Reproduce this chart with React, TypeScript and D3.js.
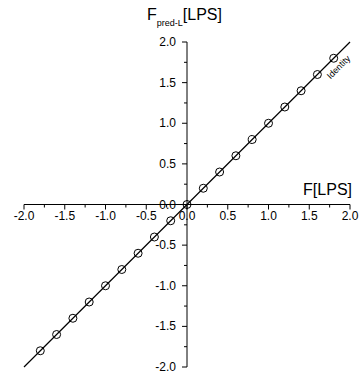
import React, { useEffect, useRef } from "react";
import * as d3 from "d3";

// measured vs predicted values, both in LPS
const xValues = [-1.8, -1.6, -1.4, -1.2, -1.0, -0.8, -0.6, -0.4, -0.2, 0.0, 0.2, 0.4, 0.6, 0.8, 1.0, 1.2, 1.4, 1.6, 1.8];
const yValues = [-1.8, -1.6, -1.4, -1.2, -1.0, -0.8, -0.6, -0.4, -0.2, 0.0, 0.2, 0.4, 0.6, 0.8, 1.0, 1.2, 1.4, 1.6, 1.8];
const lineX = [-2.0, 2.0];
const majorTicks = [-2.0, -1.5, -1.0, -0.5, 0.0, 0.5, 1.0, 1.5, 2.0];
const minorTicks = [-1.75, -1.25, -0.75, -0.25, 0.25, 0.75, 1.25, 1.75];

const W = 362;
const H = 374;
const FONT = "'Liberation Sans', Arial, sans-serif";
const fmt = (d: number) => d.toFixed(1); // plain hyphen minus like the original

const App = () => {
  const svgRef = useRef<SVGSVGElement>(null);

  useEffect(() => {
    const svg = d3.select(svgRef.current);
    svg.selectAll("*").remove();

    const x = d3.scaleLinear().domain([-2, 2]).range([24, 350]);
    const y = d3.scaleLinear().domain([-2, 2]).range([367, 42]);

    // x axis through y = 0, ticks pointing down
    const xAxis = svg.append("g").attr("transform", `translate(0,${y(0)})`);
    xAxis.append("line").attr("x1", x(-2)).attr("x2", x(2)).attr("stroke", "#000");
    xAxis.selectAll(".maj").data(majorTicks).enter().append("line")
      .attr("x1", (d) => x(d)).attr("x2", (d) => x(d))
      .attr("y1", 0).attr("y2", 5).attr("stroke", "#000");
    xAxis.selectAll(".min").data(minorTicks).enter().append("line")
      .attr("x1", (d) => x(d)).attr("x2", (d) => x(d))
      .attr("y1", 0).attr("y2", 3).attr("stroke", "#000");
    xAxis.selectAll("text").data(majorTicks).enter().append("text")
      .attr("x", (d) => x(d)).attr("y", 15)
      .attr("text-anchor", "middle")
      .attr("font-family", FONT).attr("font-size", 12)
      .text(fmt);

    // y axis through x = 0, ticks pointing left
    const yAxis = svg.append("g").attr("transform", `translate(${x(0)},0)`);
    yAxis.append("line").attr("y1", y(-2)).attr("y2", y(2)).attr("stroke", "#000");
    yAxis.selectAll(".maj").data(majorTicks).enter().append("line")
      .attr("y1", (d) => y(d)).attr("y2", (d) => y(d))
      .attr("x1", 0).attr("x2", -5).attr("stroke", "#000");
    yAxis.selectAll(".min").data(minorTicks).enter().append("line")
      .attr("y1", (d) => y(d)).attr("y2", (d) => y(d))
      .attr("x1", 0).attr("x2", -3).attr("stroke", "#000");
    yAxis.selectAll("text").data(majorTicks).enter().append("text")
      .attr("x", -11).attr("y", (d) => y(d) + 4)
      .attr("text-anchor", "end")
      .attr("font-family", FONT).attr("font-size", 12)
      .text(fmt);

    // identity line
    const line = d3.line<number>().x((d) => x(d)).y((d) => y(d));
    svg.append("path").datum(lineX).attr("d", line)
      .attr("fill", "none").attr("stroke", "#000").attr("stroke-width", 1.2);

    // points
    svg.selectAll("circle").data(xValues).enter().append("circle")
      .attr("cx", (d) => x(d)).attr("cy", (d, i) => y(yValues[i]))
      .attr("r", 4).attr("fill", "none").attr("stroke", "#000").attr("stroke-width", 1);

    // identity label, parallel to the line, below it
    svg.append("text")
      .attr("transform", `translate(${x(1.76)},${y(1.76) + 18}) rotate(-45)`)
      .attr("font-family", FONT).attr("font-size", 9)
      .text("Identity");

    // axis titles
    const yt = svg.append("text").attr("x", 147).attr("y", 20)
      .attr("font-family", FONT).attr("font-size", 16);
    yt.append("tspan").text("F");
    yt.append("tspan").attr("font-size", 9).attr("dy", 6).text("pred-L");
    yt.append("tspan").attr("dy", -6).text("[LPS]");

    svg.append("text").attr("x", 352).attr("y", 195)
      .attr("text-anchor", "end")
      .attr("font-family", FONT).attr("font-size", 16)
      .text("F[LPS]");
  }, []);

  return (
    <svg ref={svgRef} width={W} height={H}
      style={{ position: "absolute", left: 0, top: 0, background: "#fff" }} />
  );
};

export default App;
